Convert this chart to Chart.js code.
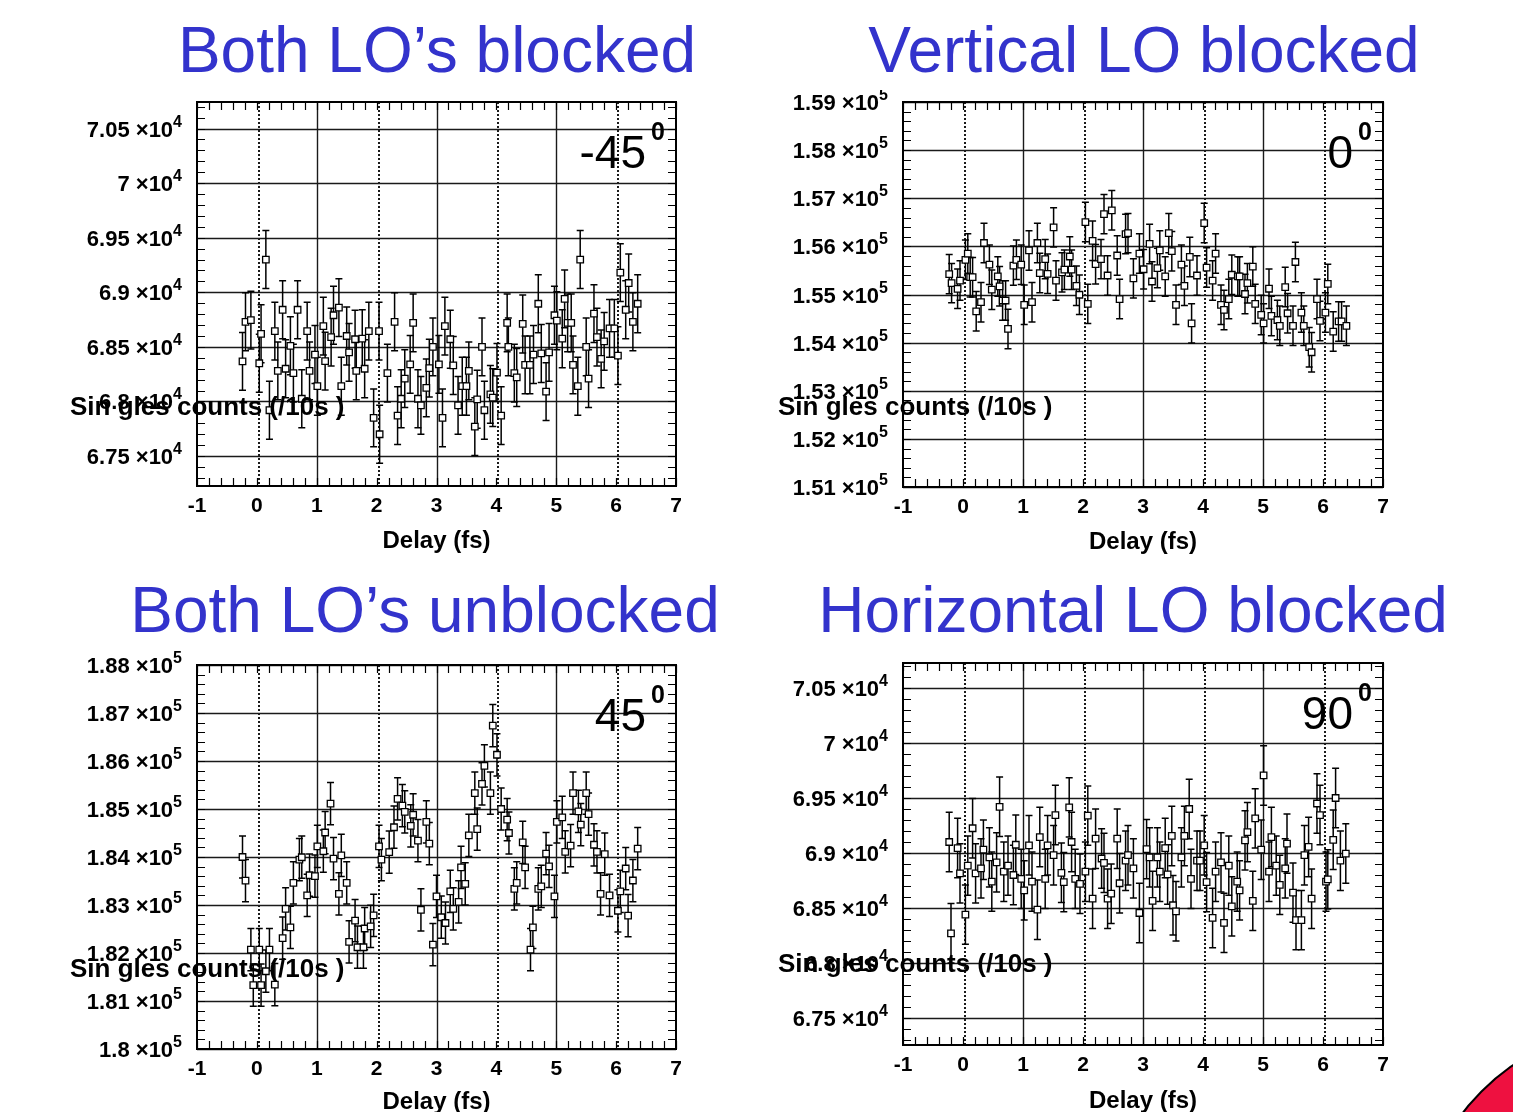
<!DOCTYPE html>
<html>
<head>
<meta charset="utf-8">
<script src="https://cdn.jsdelivr.net/npm/chart.js@4.4.0/dist/chart.umd.min.js"></script>
<style>
  html, body { margin: 0; padding: 0; background: #fff; }
  #page { position: relative; width: 1513px; height: 1112px; overflow: hidden; background: #fff; }
  canvas { position: absolute; }
  .title {
    position: absolute; width: 800px; text-align: center; white-space: nowrap;
    font-family: 'Liberation Sans', Arial, sans-serif; font-size: 64px; line-height: 64px;
    color: #3333cc;
  }
  .corner {
    position: absolute; left: 1414px; top: 1024px; width: 452px; height: 452px;
    border-radius: 50%; background: #ee1140; border: 2px solid #000;
  }
</style>
</head>
<body>
<div id="page">
  <div class="title" style="left:37px; top:18px">Both LO’s blocked</div>
  <div class="title" style="left:744px; top:18px">Vertical LO blocked</div>
  <div class="title" style="left:25px; top:578px">Both LO’s unblocked</div>
  <div class="title" style="left:733px; top:578px">Horizontal LO blocked</div>
  <canvas id="c1" width="756" height="480" style="left:0; top:90px"></canvas>
  <canvas id="c2" width="757" height="480" style="left:756px; top:90px"></canvas>
  <canvas id="c3" width="756" height="480" style="left:0; top:650px"></canvas>
  <canvas id="c4" width="757" height="480" style="left:756px; top:650px"></canvas>
  <div class="corner"></div>
</div>
<script>
// Delay (fs) and singles counts per 10 s
const delay1 = [-0.24,-0.19,-0.10,0.04,0.07,0.15,0.21,0.30,0.35,0.43,0.48,0.56,0.61,0.68,0.75,0.84,0.88,0.97,1.01,1.11,
  1.14,1.24,1.28,1.37,1.41,1.50,1.54,1.64,1.66,1.76,1.80,1.87,1.95,2.04,2.05,2.18,2.30,2.35,2.41,2.47,
  2.56,2.61,2.69,2.74,2.83,2.88,2.94,3.04,3.10,3.14,3.23,3.28,3.36,3.43,3.50,3.54,3.64,3.68,3.76,3.80,
  3.90,3.94,4.01,4.08,4.18,4.20,4.30,4.34,4.44,4.48,4.56,4.62,4.70,4.75,4.83,4.88,4.97,5.01,5.10,5.14,
  5.19,5.25,5.28,5.36,5.40,5.50,5.54,5.63,5.68,5.75,5.80,5.89,5.97,6.03,6.07,6.16,6.21,6.28,6.36];
const counts1 = [68367,68730,68745,68350,68620,69300,67920,68645,68280,68840,68300,68510,68260,68840,68025,68645,68280,68430,68140,68690,
  68370,68590,68790,68860,68140,68600,68450,68570,68280,68575,68300,68645,67850,68645,67700,68260,68730,67870,68025,68210,
  68340,68720,68025,67965,68125,68305,68500,68340,67850,68690,68570,68330,67965,68140,68140,68280,67770,68020,68500,67920,
  68065,68035,68265,67870,68720,68500,68260,68220,68710,68335,68335,68430,68895,68440,68090,68450,68790,68740,68575,68940,
  68720,68720,68335,68140,69300,68500,68210,68805,68590,68390,68550,68670,68670,68420,69180,68840,69085,68730,68895];

const delay2 = [-0.23,-0.19,-0.09,-0.05,0.04,0.08,0.12,0.16,0.22,0.30,0.35,0.44,0.48,0.58,0.61,0.66,0.71,0.75,0.84,0.89,
  0.97,1.02,1.10,1.15,1.24,1.28,1.37,1.41,1.51,1.55,1.65,1.69,1.78,1.81,1.89,1.94,2.04,2.08,2.16,2.21,
  2.30,2.35,2.41,2.48,2.57,2.61,2.71,2.75,2.84,2.94,3.01,3.11,3.15,3.24,3.28,3.37,3.43,3.48,3.55,3.64,
  3.69,3.78,3.81,3.90,4.02,4.06,4.16,4.21,4.30,4.35,4.43,4.48,4.58,4.61,4.70,4.74,4.83,4.87,4.97,5.01,
  5.10,5.14,5.24,5.28,5.37,5.41,5.50,5.54,5.64,5.68,5.77,5.81,5.90,5.95,6.04,6.08,6.17,6.26,6.31,6.39];
const counts2 = [155423,155236,155118,155290,155720,155850,155360,155360,154650,154840,156070,155620,155100,155375,155170,154875,154875,154285,155600,155720,
  155620,154785,155915,154840,156070,155445,155735,155430,156395,155290,155460,155515,155790,155515,155180,154995,156505,154805,156115,155630,
  155735,156670,155395,156750,155810,154905,156255,156275,155335,155850,155525,156050,155270,155550,155915,155375,156275,155900,154785,155620,
  155180,155780,154400,155395,156485,155560,155290,155850,154785,154680,154905,155410,155375,155375,155010,155235,155580,154805,154575,154400,
  155120,154555,154470,154350,155155,154610,154350,155675,154625,154350,153905,153800,154905,154450,154625,155220,154230,154440,154440,154350];

const delay3 = [-0.24,-0.19,-0.10,-0.06,0.04,0.07,0.15,0.21,0.30,0.43,0.48,0.56,0.61,0.71,0.75,0.84,0.88,0.97,1.01,1.11,
  1.14,1.23,1.28,1.37,1.41,1.50,1.54,1.64,1.68,1.78,1.80,1.90,1.95,2.04,2.08,2.21,2.29,2.35,2.43,2.47,
  2.57,2.61,2.69,2.74,2.83,2.88,2.94,3.00,3.08,3.15,3.23,3.28,3.37,3.41,3.48,3.54,3.64,3.68,3.76,3.80,
  3.90,3.94,4.01,4.08,4.18,4.21,4.30,4.34,4.44,4.48,4.57,4.61,4.70,4.75,4.83,4.88,4.97,5.01,5.10,5.15,
  5.24,5.28,5.37,5.41,5.50,5.54,5.63,5.68,5.74,5.81,5.89,6.03,6.07,6.16,6.20,6.28,6.36];
const counts3 = [184000,183507,182070,181330,182070,181330,181620,182070,181340,182310,182920,182535,183460,183945,183995,183200,183620,183600,184220,184120,
  184510,185110,183965,183230,184035,183460,182230,182675,182120,182120,182510,182555,182785,184220,183945,184100,184620,185210,185070,184940,
  184650,184880,184340,182900,184730,184280,182175,183180,182745,182625,183285,182920,183065,183785,183440,184450,185330,184580,185525,185900,
  185330,186735,186130,185000,184780,184500,183335,183460,184305,183785,182070,182535,183335,183390,184070,183805,183180,184730,184825,184105,
  184235,185330,184950,184675,185330,184895,184255,184105,183230,184060,183200,182880,183285,183760,182780,183510,184175];

const delay4 = [-0.23,-0.20,-0.09,-0.05,0.04,0.08,0.16,0.21,0.30,0.34,0.44,0.48,0.56,0.61,0.68,0.75,0.84,0.88,0.97,1.02,
  1.10,1.15,1.24,1.28,1.37,1.41,1.51,1.54,1.64,1.68,1.77,1.81,1.87,1.95,2.04,2.08,2.16,2.21,2.31,2.35,
  2.41,2.47,2.57,2.61,2.71,2.75,2.84,2.94,3.06,3.11,3.16,3.24,3.28,3.37,3.41,3.48,3.50,3.55,3.64,3.69,
  3.77,3.80,3.90,3.95,4.02,4.06,4.16,4.21,4.30,4.35,4.43,4.48,4.57,4.61,4.70,4.74,4.83,4.87,4.97,5.01,
  5.10,5.14,5.22,5.28,5.37,5.40,5.50,5.55,5.64,5.69,5.76,5.81,5.90,5.95,6.05,6.08,6.17,6.21,6.29,6.38];
const counts4 = [69100,68270,69045,68815,68440,68885,69225,68815,68860,69030,68960,68740,68915,69420,68830,68885,68800,69075,68765,68660,
  69070,68740,68485,69145,68765,69070,68980,69345,68820,68735,69415,69100,68765,68720,68830,69340,68585,69130,68950,68910,
  68585,68630,69130,68725,68930,68980,68860,68455,69035,68960,68565,68960,68830,69045,68805,69155,68525,68470,68960,69155,
  69400,68765,68930,68930,69070,68735,68410,68830,68915,68365,68885,68515,68740,68660,69115,69190,68565,69315,69030,69705,
  68830,69145,68885,68710,68860,69085,68640,68390,68390,68980,69055,68585,69450,69345,68740,68760,69120,69500,68930,68995];

// half-length of the vertical error bars, per panel
const err1 = 265, err2 = 410, err3 = 440, err4 = 270;

// labelled y ticks
const yTicks1 = [67500, 68000, 68500, 69000, 69500, 70000, 70500];
const yTicks2 = [151000, 152000, 153000, 154000, 155000, 156000, 157000, 158000, 159000];
const yTicks3 = [180000, 181000, 182000, 183000, 184000, 185000, 186000, 187000, 188000];
const yTicks4 = [67500, 68000, 68500, 69000, 69500, 70000, 70500];

const gridSolid = [1, 3, 5];
const gridDotted = [0, 2, 4, 6];
const angles = ['-45', '0', '45', '90'];
const xTitle = 'Delay (fs)';
const yTitle = 'Sin gles counts (/10s )';

const FONT = "'Liberation Sans', Arial, sans-serif";
Chart.defaults.font.family = FONT;

const rootFrame = {
  id: 'rootFrame',
  beforeDatasetsDraw(chart, args, o) {
    const { ctx, chartArea: a, scales: { x, y } } = chart;
    ctx.save();
    ctx.strokeStyle = '#1a1a1a';
    ctx.lineWidth = 1.4;
    o.yTicks.forEach(v => {
      const py = Math.round(y.getPixelForValue(v)) + 0.5;
      ctx.beginPath(); ctx.moveTo(a.left, py); ctx.lineTo(a.right, py); ctx.stroke();
    });
    gridSolid.forEach(v => {
      const px = Math.round(x.getPixelForValue(v)) + 0.5;
      ctx.beginPath(); ctx.moveTo(px, a.top); ctx.lineTo(px, a.bottom); ctx.stroke();
    });
    ctx.lineWidth = 2;
    ctx.setLineDash([2, 2]);
    gridDotted.forEach(v => {
      const px = Math.round(x.getPixelForValue(v)) + 2;
      ctx.beginPath(); ctx.moveTo(px, a.top); ctx.lineTo(px, a.bottom); ctx.stroke();
    });
    ctx.setLineDash([]);

    // error bars with end caps
    ctx.strokeStyle = '#000';
    ctx.lineWidth = 1.5;
    chart.data.datasets[0].data.forEach(p => {
      const px = x.getPixelForValue(p.x);
      const t = y.getPixelForValue(p.y + o.err);
      const b = y.getPixelForValue(p.y - o.err);
      ctx.beginPath();
      ctx.moveTo(px, t); ctx.lineTo(px, b);
      ctx.moveTo(px - 3.5, t); ctx.lineTo(px + 3.5, t);
      ctx.moveTo(px - 3.5, b); ctx.lineTo(px + 3.5, b);
      ctx.stroke();
    });
    ctx.restore();
  },
  afterDraw(chart, args, o) {
    const { ctx, chartArea: a, scales: { x, y } } = chart;
    ctx.save();
    ctx.strokeStyle = '#000';
    ctx.lineWidth = 1.2;
    // small ticks on all four sides
    ctx.beginPath();
    for (let k = 0; k <= 40; k++) {
      const px = Math.round(x.getPixelForValue(-1 + k * 0.2)) + 0.5;
      ctx.moveTo(px, a.top); ctx.lineTo(px, a.top + 8);
      ctx.moveTo(px, a.bottom); ctx.lineTo(px, a.bottom - 8);
    }
    for (let v = Math.ceil(y.min / o.yMinor) * o.yMinor; v <= y.max; v += o.yMinor) {
      const py = Math.round(y.getPixelForValue(v)) + 0.5;
      ctx.moveTo(a.left, py); ctx.lineTo(a.left + 8, py);
      ctx.moveTo(a.right, py); ctx.lineTo(a.right - 8, py);
    }
    ctx.stroke();
    ctx.lineWidth = 2;
    ctx.strokeRect(a.left, a.top, a.right - a.left, a.bottom - a.top);

    // y tick labels, mantissa x 10^exp
    ctx.fillStyle = '#000';
    ctx.textBaseline = 'alphabetic';
    ctx.textAlign = 'right';
    o.yTicks.forEach(v => {
      const py = y.getPixelForValue(v);
      const right = a.left - 15;
      const mant = String(+(v / Math.pow(10, o.exp)).toFixed(2));
      ctx.font = 'bold 16px ' + FONT;
      ctx.fillText(String(o.exp), right, py - 2);
      const ew = ctx.measureText(String(o.exp)).width;
      ctx.font = 'bold 22px ' + FONT;
      ctx.fillText(mant + ' ×10', right - ew, py + 8);
    });

    // angle in the upper right corner
    ctx.font = '46px ' + FONT;
    ctx.fillText(o.angle, a.right - 30, a.top + 66);
    ctx.font = 'bold 25px ' + FONT;
    ctx.fillText('0', a.right - 11, a.top + 38);

    // y axis title, drawn flat over the labels
    ctx.textAlign = 'left';
    ctx.textBaseline = 'middle';
    ctx.font = 'bold 26px ' + FONT;
    ctx.fillText(yTitle, o.yTitleX, o.yTitleY);
    ctx.restore();
  }
};

const panels = [
  { id: 'c1', delay: delay1, counts: counts1, err: err1, yTicks: yTicks1, exp: 4, yMin: 67226, yMax: 70743, yMinor: 100,
    angle: angles[0], padTop: 12, padRight: 80, yWidth: 197, xHeight: 84, titlePad: 14, yTitleX: 70, yTitleY: 318 },
  { id: 'c2', delay: delay2, counts: counts2, err: err2, yTicks: yTicks2, exp: 5, yMin: 151000, yMax: 159000, yMinor: 200,
    angle: angles[1], padTop: 12, padRight: 130, yWidth: 147, xHeight: 83, titlePad: 13, yTitleX: 22, yTitleY: 318 },
  { id: 'c3', delay: delay3, counts: counts3, err: err3, yTicks: yTicks3, exp: 5, yMin: 180000, yMax: 188000, yMinor: 200,
    angle: angles[2], padTop: 15, padRight: 80, yWidth: 197, xHeight: 81, titlePad: 13, yTitleX: 70, yTitleY: 320 },
  { id: 'c4', delay: delay4, counts: counts4, err: err4, yTicks: yTicks4, exp: 4, yMin: 67255, yMax: 70727, yMinor: 100,
    angle: angles[3], padTop: 13, padRight: 130, yWidth: 147, xHeight: 85, titlePad: 14, yTitleX: 22, yTitleY: 315 }
];

panels.forEach(p => {
  new Chart(document.getElementById(p.id), {
    type: 'scatter',
    data: {
      datasets: [{
        data: p.delay.map((d, i) => ({ x: d, y: p.counts[i] })),
        pointStyle: 'rect',
        pointRadius: 4.6,
        pointBorderWidth: 1.3,
        pointBorderColor: '#000',
        pointBackgroundColor: '#fff',
        showLine: false
      }]
    },
    options: {
      responsive: false,
      animation: false,
      devicePixelRatio: 1,
      events: [],
      layout: { padding: { top: p.padTop, right: p.padRight, left: 0, bottom: 0 } },
      plugins: {
        legend: { display: false },
        tooltip: { enabled: false },
        rootFrame: {
          err: p.err, yTicks: p.yTicks, exp: p.exp, yMinor: p.yMinor, angle: p.angle,
          yTitleX: p.yTitleX, yTitleY: p.yTitleY
        }
      },
      scales: {
        x: {
          type: 'linear', min: -1, max: 7,
          grid: { display: false },
          border: { display: false },
          ticks: { stepSize: 1, color: '#000', font: { size: 21, weight: 'bold' }, padding: 0, maxRotation: 0, autoSkip: false },
          title: { display: true, text: xTitle, color: '#000', font: { size: 24, weight: 'bold' }, padding: { top: 0, bottom: p.titlePad } },
          afterFit: s => { s.height = p.xHeight; }
        },
        y: {
          type: 'linear', min: p.yMin, max: p.yMax,
          grid: { display: false },
          border: { display: false },
          ticks: { display: false },
          afterFit: s => { s.width = p.yWidth; }
        }
      }
    },
    plugins: [rootFrame]
  });
});
</script>
</body>
</html>
